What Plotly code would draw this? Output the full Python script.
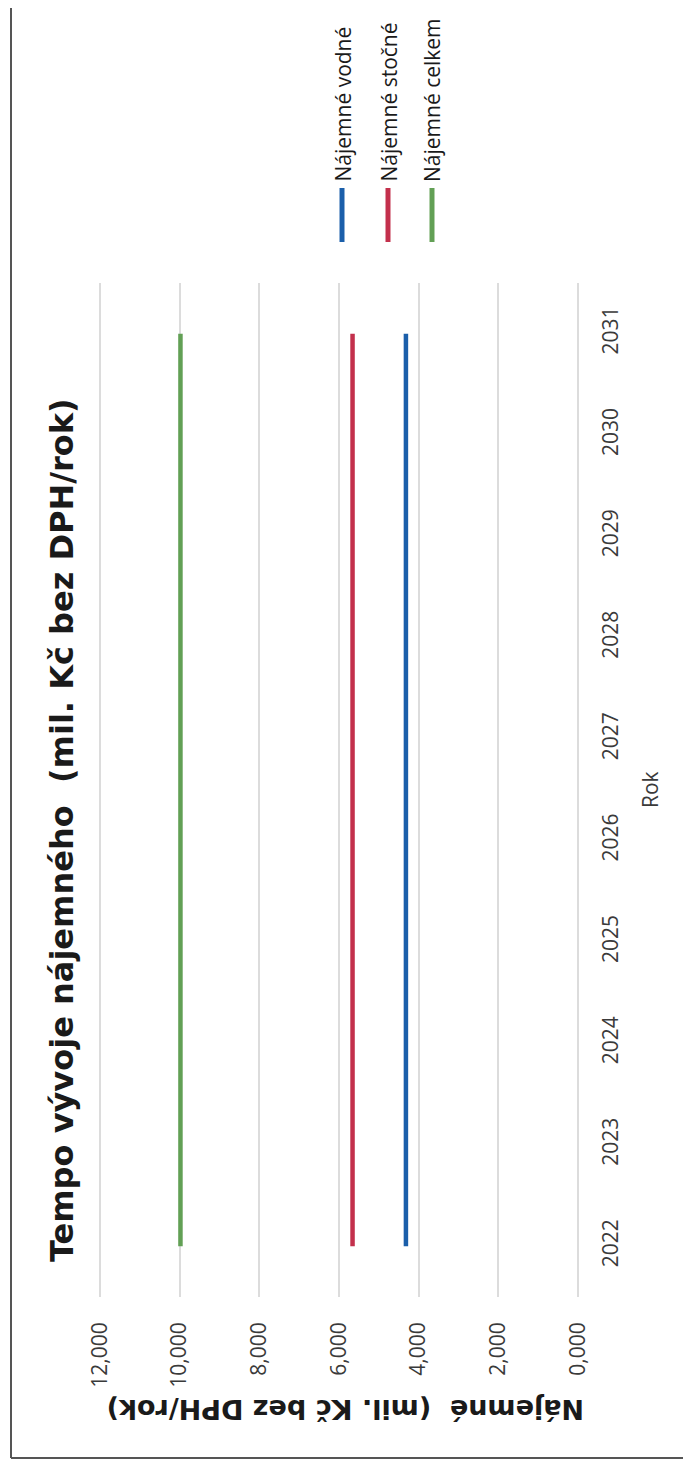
import plotly.graph_objects as go

# ---- data ----
years = [2022, 2023, 2024, 2025, 2026, 2027, 2028, 2029, 2030, 2031]
vodne = [4.32, 4.32, 4.32, 4.32, 4.32, 4.32, 4.32, 4.32, 4.32, 4.32]
stocne = [5.66, 5.66, 5.66, 5.66, 5.66, 5.66, 5.66, 5.66, 5.66, 5.66]
celkem = [9.98, 9.98, 9.98, 9.98, 9.98, 9.98, 9.98, 9.98, 9.98, 9.98]
series_names = ["Nájemné vodné", "Nájemné stočné", "Nájemné celkem"]
value_ticks = [0, 2, 4, 6, 8, 10, 12]
value_labels = ["0,000", "2,000", "4,000", "6,000", "8,000", "10,000", "12,000"]
title_text = "Tempo vývoje nájemného\u00a0\u00a0(mil. Kč bez DPH/rok)"
value_title = "Nájemné\u00a0\u00a0(mil. Kč bez DPH/rok)"
cat_title = "Rok"

colors = ["#1b5faa", "#c3304c", "#62a055"]

OFF = 8  # page body margin
W, H = 691 - OFF, 1470 - OFF
# plot area in screen pixels
SL, SR, ST, SB = 96, 582, 283, 1297
L, R, T, B = SL - OFF, SR - OFF, ST - OFF, SB - OFF


def px(x):
    return (x - SL) / (SR - SL)


def py(y):
    return (SB - y) / (SB - ST)


fig = go.Figure()
for name, vals, col in zip(series_names, [vodne, stocne, celkem], colors):
    fig.add_trace(go.Scatter(x=vals, y=years, mode="lines", name=name,
                             line=dict(color=col, width=4.5), showlegend=False))

tick_font = dict(family="Open Sans", size=21, color="#3a3a3a")

fig.update_layout(
    width=W, height=H,
    margin=dict(l=L, r=W - R, t=T, b=H - B, pad=0),
    paper_bgcolor="white", plot_bgcolor="white",
    xaxis=dict(range=[12.1, -0.1], tickvals=value_ticks, ticktext=value_labels,
               tickangle=-90, tickfont=tick_font, showgrid=True,
               gridcolor="#dcdcdc", gridwidth=1.5, zeroline=False,
               showline=False, ticklabelstandoff=20),
    yaxis=dict(range=[2021.5, 2031.5], tickvals=years, side="right",
               tickangle=-90, tickfont=tick_font, showgrid=False,
               zeroline=False, showline=False, ticklabelstandoff=14),
)

ann = []
ann.append(dict(text="<b>" + title_text + "</b>", x=px(62), y=py(830),
                xref="paper", yref="paper", showarrow=False, textangle=-90,
                xanchor="center", yanchor="middle",
                font=dict(family="DejaVu Sans", size=32, color="#1a1a1a")))
ann.append(dict(text="<b>" + value_title + "</b>", x=px(346), y=py(1410),
                xref="paper", yref="paper", showarrow=False, textangle=180,
                xanchor="center", yanchor="middle",
                font=dict(family="DejaVu Sans", size=27, color="#1a1a1a")))
ann.append(dict(text=cat_title, x=px(650), y=py(790),
                xref="paper", yref="paper", showarrow=False, textangle=-90,
                xanchor="center", yanchor="middle",
                font=dict(family="Open Sans", size=21, color="#3a3a3a")))

shapes = []
leg_x = [342, 388, 432]
for name, col, lx in zip(series_names, colors, leg_x):
    ann.append(dict(text=name, x=px(lx), y=py(184), xref="paper", yref="paper",
                    showarrow=False, textangle=-90, xanchor="center",
                    yanchor="bottom",
                    font=dict(family="Open Sans", size=21, color="#1a1a1a")))
    shapes.append(dict(type="line", xref="paper", yref="paper",
                       x0=px(lx), x1=px(lx), y0=py(188), y1=py(242),
                       line=dict(color=col, width=5)))

# frame
shapes.append(dict(type="line", xref="paper", yref="paper",
                   x0=px(11), x1=px(11), y0=py(0), y1=py(1458),
                   line=dict(color="#555555", width=2)))
shapes.append(dict(type="line", xref="paper", yref="paper",
                   x0=px(11), x1=px(691), y0=py(1458), y1=py(1458),
                   line=dict(color="#555555", width=2)))

fig.update_layout(annotations=ann, shapes=shapes)
fig.write_html("out.html")
